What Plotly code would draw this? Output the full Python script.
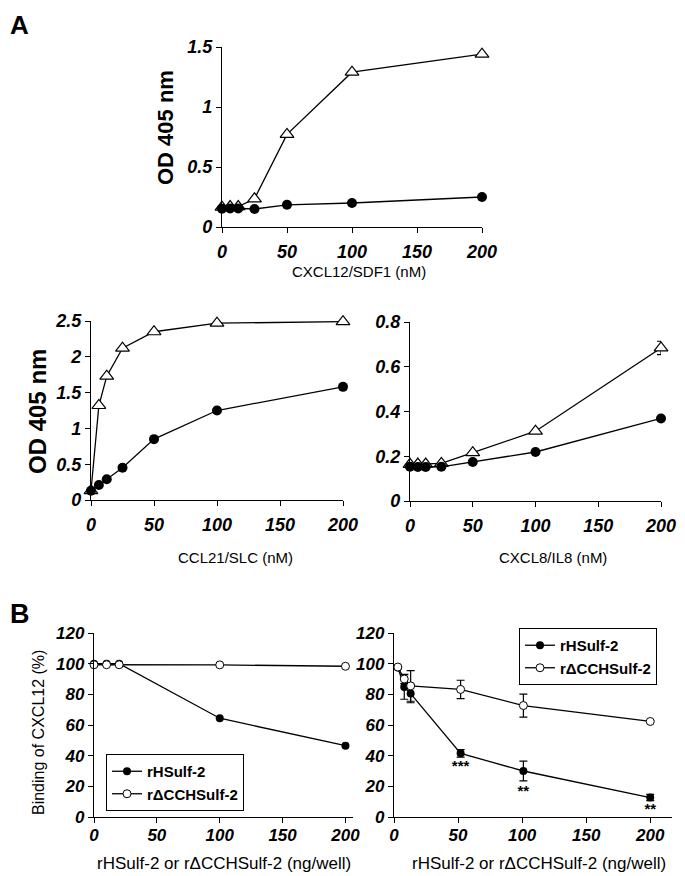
import plotly.graph_objects as go

# page has an 8px body margin; figure is sized so that it fills the 685x876 window
PAGE_OFF = 8
W, H = 685 - PAGE_OFF, 876 - PAGE_OFF

# ---------------- data ----------------
conc_a = [0, 6.25, 12.5, 25, 50, 100, 200]

# A top: CXCL12/SDF1
cxcl12_tri = [0.165, 0.17, 0.17, 0.235, 0.772, 1.29, 1.44]
cxcl12_circ = [0.152, 0.155, 0.155, 0.15, 0.185, 0.20, 0.25]

# A bottom-left: CCL21/SLC
ccl21_tri = [0.13, 1.32, 1.73, 2.12, 2.35, 2.47, 2.49]
ccl21_circ = [0.13, 0.21, 0.29, 0.45, 0.85, 1.25, 1.58]

# A bottom-right: CXCL8/IL8
cxcl8_tri = [0.164, 0.165, 0.165, 0.168, 0.216, 0.312, 0.684]
cxcl8_tri_err = [0, 0, 0, 0, 0, 0, 0.03]
cxcl8_circ = [0.153, 0.152, 0.152, 0.153, 0.174, 0.219, 0.369]

# B left
bl_x = [0, 10, 20, 100, 200]
bl_hsulf = [100, 100, 100, 64.4, 46.5]
bl_dcc = [99.3, 99.3, 99.3, 99.2, 98.3]

# B right
br_x = [3, 8, 13, 52, 101, 200]
br_hsulf = [97.5, 84.8, 80.5, 41.5, 30.0, 12.7]
br_hsulf_err = [0, 8, 6, 2.5, 6.5, 2]
br_dcc = [97.8, 90.0, 85.5, 83.2, 72.7, 62.3]
br_dcc_err = [0, 3, 10, 6, 7.5, 0]
star_x = [52, 101, 200]
star_y = [32.7, 16.4, 4.4]
star_txt = ["***", "**", "**"]

names = ["rHSulf-2", "r\u0394CCHSulf-2"]

SANS = "Liberation Sans, Arial, sans-serif"


def px_x(p):
    return (p - PAGE_OFF) / W


def px_y(p):
    return 1 - (p - PAGE_OFF) / H


fig = go.Figure()

LW = 1.3


def add_pair(x, tri, circ, xa, ya, tri_err=None):
    fig.add_trace(go.Scatter(
        x=x, y=tri, mode="lines+markers", xaxis=xa, yaxis=ya,
        line=dict(color="black", width=LW),
        marker=dict(symbol="triangle-up", size=12, color="white",
                    line=dict(color="black", width=1.2)),
        error_y=(dict(type="data", array=tri_err, color="black", thickness=1.2, width=4)
                 if tri_err else None),
        showlegend=False, cliponaxis=False))
    fig.add_trace(go.Scatter(
        x=x, y=circ, mode="lines+markers", xaxis=xa, yaxis=ya,
        line=dict(color="black", width=LW),
        marker=dict(symbol="circle", size=10, color="black"),
        showlegend=False, cliponaxis=False))


add_pair(conc_a, cxcl12_tri, cxcl12_circ, "x", "y")
add_pair(conc_a, ccl21_tri, ccl21_circ, "x2", "y2")
add_pair(conc_a, cxcl8_tri, cxcl8_circ, "x3", "y3", cxcl8_tri_err)

# B left
fig.add_trace(go.Scatter(
    x=bl_x, y=bl_hsulf, mode="lines+markers", xaxis="x4", yaxis="y4", name=names[0],
    line=dict(color="black", width=LW), marker=dict(symbol="circle", size=8, color="black"),
    legend="legend", cliponaxis=False))
fig.add_trace(go.Scatter(
    x=bl_x, y=bl_dcc, mode="lines+markers", xaxis="x4", yaxis="y4", name=names[1],
    line=dict(color="black", width=LW),
    marker=dict(symbol="circle", size=8, color="white", line=dict(color="black", width=1)),
    legend="legend", cliponaxis=False))

# B right
fig.add_trace(go.Scatter(
    x=br_x, y=br_hsulf, mode="lines+markers", xaxis="x5", yaxis="y5", name=names[0],
    line=dict(color="black", width=LW), marker=dict(symbol="circle", size=8, color="black"),
    error_y=dict(type="data", array=br_hsulf_err, color="black", thickness=1.2, width=4),
    legend="legend2", cliponaxis=False))
fig.add_trace(go.Scatter(
    x=br_x, y=br_dcc, mode="lines+markers", xaxis="x5", yaxis="y5", name=names[1],
    line=dict(color="black", width=LW),
    marker=dict(symbol="circle", size=8, color="white", line=dict(color="black", width=1)),
    error_y=dict(type="data", array=br_dcc_err, color="black", thickness=1.2, width=4),
    legend="legend2", cliponaxis=False))
fig.add_trace(go.Scatter(
    x=star_x, y=star_y, mode="text", text=star_txt, xaxis="x5", yaxis="y5",
    textfont=dict(family=SANS, size=15, color="black", weight="bold"),
    showlegend=False, cliponaxis=False))

# ---------------- axes ----------------
common = dict(showline=True, linecolor="black", linewidth=LW, ticks="outside",
              ticklen=5, tickwidth=LW, tickcolor="black", showgrid=False,
              zeroline=False, automargin=False)
tickA = dict(family=SANS, size=18, color="black", weight="bold", style="italic")
tickB = dict(family=SANS, size=17, color="black", weight="bold", style="italic")

panels = [
    # (xpx0, xpx1, ypx_top, ypx_bot, xrange, yrange, dtick_y, font, standoff)
    (222, 482, 47, 227, [0, 200], [0, 1.5], 0.5, tickA, 3),
    (91, 343, 321, 500, [0, 200], [0, 2.5], 0.5, tickA, 3),
    (410, 661, 322, 501, [0, 200], [0, 0.8], 0.2, tickA, 3),
    (94, 353, 633, 817, [0, 206], [0, 120], 20, tickB, -3),
    (394, 672, 633, 817, [0, 217], [0, 120], 20, tickB, -3),
]
layout = {}
for i, (x0, x1, yt, yb, xr, yr, dty, tf, so) in enumerate(panels, start=1):
    sfx = "" if i == 1 else str(i)
    layout["xaxis" + sfx] = dict(common, domain=[px_x(x0), px_x(x1)], range=xr,
                                 tickvals=[0, 50, 100, 150, 200], tickfont=tf,
                                 ticklabelstandoff=so,
                                 anchor="y" + sfx)
    layout["yaxis" + sfx] = dict(common, domain=[px_y(yb), px_y(yt)], range=yr,
                                 dtick=dty, tick0=0, tickfont=tf,
                                 anchor="x" + sfx)

fig.update_layout(**layout)

# ---------------- text ----------------
ann = []


def text(x, y, s, size, family=SANS, weight="normal", angle=0, xanchor="center",
         yanchor="middle"):
    ann.append(dict(x=px_x(x), y=px_y(y), xref="paper", yref="paper", text=s,
                    showarrow=False, textangle=angle, xanchor=xanchor, yanchor=yanchor,
                    font=dict(family=family, size=size, color="black", weight=weight)))


text(PAGE_OFF, PAGE_OFF, "A", 26, SANS, "bold", xanchor="left", yanchor="top")
text(PAGE_OFF, 614, "B", 27, SANS, "bold", xanchor="left")
text(165, 128, "OD 405 nm", 22, SANS, "bold", -90)
text(37, 412, "OD 405 nm", 24, SANS, "bold", -90)
text(359, 271, "CXCL12/SDF1 (nM)", 15)
text(235, 557, "CCL21/SLC (nM)", 15)
text(553, 557, "CXCL8/IL8 (nM)", 15)
text(38, 733, "Binding of CXCL12 (%)", 16, angle=-90)
text(224, 863, "rHSulf-2 or r\u0394CCHSulf-2 (ng/well)", 17)
text(539, 863, "rHSulf-2 or r\u0394CCHSulf-2 (ng/well)", 17)

legfont = dict(family=SANS, size=15, color="black", weight="bold")
fig.update_layout(
    width=W, height=H, margin=dict(l=0, r=0, t=0, b=0, autoexpand=False),
    paper_bgcolor="white", plot_bgcolor="white",
    annotations=ann,
    legend=dict(x=px_x(106), y=px_y(754), xanchor="left", yanchor="top",
                bordercolor="black", borderwidth=1, bgcolor="white", font=legfont,
                itemwidth=30, tracegroupgap=0),
    legend2=dict(x=px_x(519), y=px_y(628), xanchor="left", yanchor="top",
                 bordercolor="black", borderwidth=1, bgcolor="white", font=legfont,
                 itemwidth=30, tracegroupgap=0),
)

fig.write_html("out.html")
